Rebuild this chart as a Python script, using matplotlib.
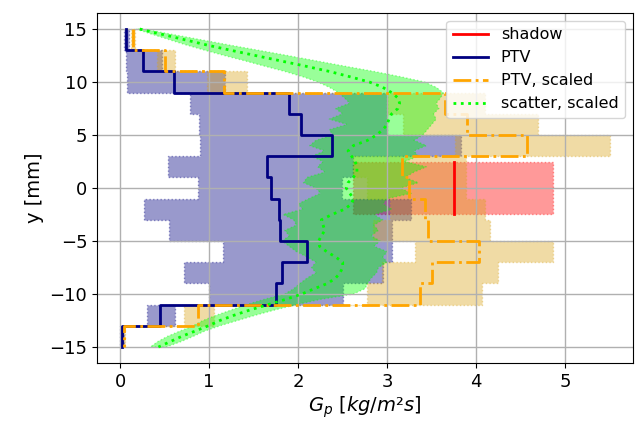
import numpy as np
import matplotlib
matplotlib.use("Agg")
import matplotlib.pyplot as plt

# ---- data -------------------------------------------------------------
edges = [15, 13, 11, 9, 7, 5, 3, 1, -1, -3, -5, -7, -9, -11, -13, -15]

ptv = [0.07, 0.26, 0.61, 1.90, 2.03, 2.38, 1.65, 1.69, 1.78, 1.80, 2.10, 1.82, 1.75, 0.45, 0.02]
ptv_lo = [0.04, 0.07, 0.08, 0.78, 0.89, 0.90, 0.54, 0.88, 0.27, 0.55, 1.16, 0.72, 1.00, 0.30, 0.00]
ptv_hi = [0.10, 0.47, 1.18, 3.00, 3.00, 3.83, 2.62, 2.49, 3.27, 3.05, 3.05, 2.95, 2.50, 0.62, 0.04]

ptv_sc = [0.14, 0.50, 1.17, 3.65, 3.90, 4.57, 3.17, 3.24, 3.42, 3.46, 4.03, 3.50, 3.37, 0.87, 0.04]
ptv_sc_lo = [0.12, 0.41, 0.98, 3.00, 3.18, 3.76, 2.62, 2.77, 3.03, 2.84, 3.31, 2.94, 2.77, 0.72, 0.02]
ptv_sc_hi = [0.17, 0.62, 1.43, 4.10, 4.69, 5.50, 3.89, 3.89, 4.10, 4.16, 4.86, 4.24, 4.06, 1.05, 0.06]

scatter_y = np.linspace(15, -15, 61)
scatter = [0.22, 0.47, 0.72, 0.97, 1.24, 1.52, 1.80, 2.08, 2.35, 2.58,
           2.80, 2.95, 3.05, 3.12, 3.14, 3.12, 3.05, 3.02, 3.00, 2.95,
           2.88, 2.78, 2.62, 2.56, 2.60, 2.64, 2.66, 2.66, 2.62, 2.56,
           2.54, 2.58, 2.62, 2.60, 2.52, 2.38, 2.26, 2.28, 2.30, 2.26,
           2.23, 2.24, 2.32, 2.42, 2.50, 2.50, 2.47, 2.42, 2.33, 2.18,
           2.04, 1.86, 1.66, 1.46, 1.28, 1.12, 0.99, 0.84, 0.69, 0.56,
           0.43]
scatter_lo = [0.18, 0.36, 0.55, 0.74, 0.95, 1.17, 1.40, 1.62, 1.85, 2.05,
              2.22, 2.35, 2.45, 2.52, 2.58, 2.42, 2.50, 2.35, 2.55, 2.35,
              2.39, 2.20, 2.13, 2.30, 2.15, 2.28, 2.22, 2.30, 2.10, 2.06,
              2.20, 2.25, 2.12, 2.00, 2.05, 1.83, 1.95, 1.98, 1.85, 1.90,
              1.82, 1.90, 1.98, 2.10, 2.20, 2.15, 2.20, 2.10, 2.02, 1.95,
              1.85, 1.62, 1.42, 1.25, 1.08, 0.93, 0.82, 0.67, 0.53, 0.42,
              0.34]
scatter_hi = [0.26, 0.58, 0.90, 1.22, 1.55, 1.88, 2.20, 2.52, 2.85, 3.15,
              3.42, 3.55, 3.63, 3.60, 3.55, 3.58, 3.52, 3.55, 3.50, 3.45,
              3.40, 3.30, 3.44, 3.30, 3.35, 3.20, 3.44, 3.30, 3.20, 3.35,
              3.15, 3.27, 3.00, 2.95, 3.05, 2.85, 2.95, 2.85, 2.90, 2.82,
              2.92, 2.85, 3.00, 2.95, 3.00, 2.90, 2.88, 2.82, 2.78, 2.75,
              2.62, 2.25, 1.98, 1.74, 1.52, 1.32, 1.12, 0.95, 0.82, 0.68,
              0.52]

shadow_y = [2.43, -2.49]
shadow = [3.75, 3.75]
shadow_lo = [2.62, 2.62]
shadow_hi = [4.86, 4.86]

# ---- helpers ------------------------------------------------------------
def step_xy(vals, edges):
    v = np.asarray(vals, float)
    e = np.asarray(edges, float)
    return np.repeat(v, 2), np.repeat(e, 2)[1:-1]

def ext(vals):
    v = list(vals)
    return np.array(v + [v[-1]], float)

# ---- figure -------------------------------------------------------------
fig = plt.figure(figsize=(6.38, 4.23), dpi=100)
ax = fig.add_axes([0.152, 0.142, 0.840, 0.827])

band_kw = dict(alpha=0.4, linestyle=':', linewidth=1.0)

ax.fill_betweenx(shadow_y, shadow_lo, shadow_hi, color='red', **band_kw)
ax.fill_betweenx(edges, ext(ptv_lo), ext(ptv_hi), step='post', color='navy', **band_kw)
ax.fill_betweenx(edges, ext(ptv_sc_lo), ext(ptv_sc_hi), step='post', color='goldenrod', **band_kw)
ax.fill_betweenx(scatter_y, scatter_lo, scatter_hi, color='lime', **band_kw)

ax.plot(shadow, shadow_y, color='red', lw=2, label='shadow')
x, y = step_xy(ptv, edges)
ax.plot(x, y, color='navy', lw=2, label='PTV')
x, y = step_xy(ptv_sc, edges)
ax.plot(x, y, color='orange', lw=2, ls='-.', label='PTV, scaled')
ax.plot(scatter, scatter_y, color='lime', lw=2, ls=':', label='scatter, scaled')

ax.set_xlim(-0.26, 5.76)
ax.set_ylim(-16.5, 16.5)
ax.set_xticks([0, 1, 2, 3, 4, 5])
ax.set_yticks([-15, -10, -5, 0, 5, 10, 15])
ax.tick_params(labelsize=13)
ax.grid(True, color='#b0b0b0', lw=1)
ax.set_xlabel(r'$G_p\ [kg/m²s]$', fontsize=14, labelpad=3)
ax.set_ylabel('y [mm]', fontsize=14)
ax.legend(loc='upper right', fontsize=11.5, handlelength=2.2)

fig.savefig('out.png', dpi=100)
